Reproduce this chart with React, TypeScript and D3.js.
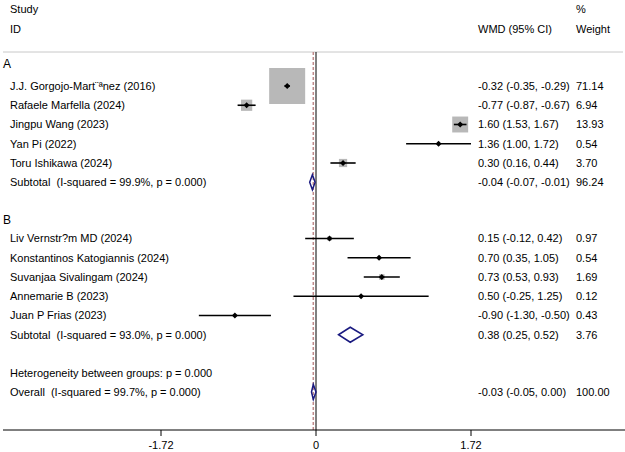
import React from "react";
import * as d3 from "d3";

const groupNames = ["A", "B"];
const studyLabels = [
  ["J.J. Gorgojo-Mart¨ªnez (2016)", "Rafaele Marfella (2024)", "Jingpu Wang (2023)", "Yan Pi (2022)", "Toru Ishikawa (2024)"],
  ["Liv Vernstr?m MD (2024)", "Konstantinos Katogiannis (2024)", "Suvanjaa Sivalingam (2024)", "Annemarie B (2023)", "Juan P Frias (2023)"],
];
const studyEst = [[-0.32, -0.77, 1.6, 1.36, 0.3], [0.15, 0.7, 0.73, 0.5, -0.9]];
const studyLo = [[-0.35, -0.87, 1.53, 1.0, 0.16], [-0.12, 0.35, 0.53, -0.25, -1.3]];
const studyHi = [[-0.29, -0.67, 1.67, 1.72, 0.44], [0.42, 1.05, 0.93, 1.25, -0.5]];
const studyWeight = [[71.14, 6.94, 13.93, 0.54, 3.7], [0.97, 0.54, 1.69, 0.12, 0.43]];
const subtotalLabels = ["Subtotal  (I-squared = 99.9%, p = 0.000)", "Subtotal  (I-squared = 93.0%, p = 0.000)"];
const subtotalEst = [-0.04, 0.38];
const subtotalLo = [-0.07, 0.25];
const subtotalHi = [-0.01, 0.52];
const subtotalWeight = [96.24, 3.76];
const overallLabel = "Overall  (I-squared = 99.7%, p = 0.000)";
const overallEst = -0.03;
const overallLo = -0.05;
const overallHi = 0.0;
const overallWeight = 100.0;
const heterogeneityLabel = "Heterogeneity between groups: p = 0.000";
const tickValues = [-1.72, 0, 1.72];

const fmt = (v: number) => v.toFixed(2);
const ciText = (e: number, l: number, h: number) => `${fmt(e)} (${fmt(l)}, ${fmt(h)})`;

export default function App() {
  const W = 625, H = 452;
  const x = d3.scaleLinear().domain([-1.72, 1.72]).range([161, 471]);
  const rowH = 19.25;
  const groupY = [63.3, 220];
  const firstY = [86, 238.5];
  const font = "Arial, 'Liberation Sans', sans-serif";
  const fs = 11;
  const textX = 10, ciX = 478, wX = 576;
  const axisY = 430, topY = 52;
  const maxSide = 36;
  const maxW = d3.max(studyWeight.flat()) as number;
  const pre = { whiteSpace: "pre" as const };

  const els: React.ReactNode[] = [];
  groupNames.forEach((g, gi) => {
    els.push(<text key={`g${gi}`} x={3} y={groupY[gi]} dy="0.35em" fontSize={fs + 1}>{g}</text>);
    let y = firstY[gi];
    studyLabels[gi].forEach((lab, i) => {
      const e = studyEst[gi][i], lo = studyLo[gi][i], hi = studyHi[gi][i], w = studyWeight[gi][i];
      const side = maxSide * Math.sqrt(w / maxW);
      els.push(
        <g key={`s${gi}-${i}`}>
          <text x={textX} y={y} dy="0.35em" fontSize={fs} style={pre}>{lab}</text>
          <rect x={x(e) - side / 2} y={y - side / 2} width={side} height={side} fill="#b8b8b8" />
          <line x1={x(lo)} x2={x(hi)} y1={y} y2={y} stroke="#000" strokeWidth={1.6} />
          <path d={`M${x(e) - 3},${y} L${x(e)},${y - 3} L${x(e) + 3},${y} L${x(e)},${y + 3} Z`} fill="#000" />
          <text x={ciX} y={y} dy="0.35em" fontSize={fs}>{ciText(e, lo, hi)}</text>
          <text x={wX} y={y} dy="0.35em" fontSize={fs}>{fmt(w)}</text>
        </g>
      );
      y += rowH;
    });
    const se = subtotalEst[gi], sl = subtotalLo[gi], sh = subtotalHi[gi];
    els.push(
      <g key={`t${gi}`}>
        <text x={textX} y={y} dy="0.35em" fontSize={fs} style={pre}>{subtotalLabels[gi]}</text>
        <path d={`M${x(sl)},${y} L${x(se)},${y - 7.5} L${x(sh)},${y} L${x(se)},${y + 7.5} Z`} fill="none" stroke="#1a1a80" strokeWidth={1.5} />
        <text x={ciX} y={y} dy="0.35em" fontSize={fs}>{ciText(se, sl, sh)}</text>
        <text x={wX} y={y} dy="0.35em" fontSize={fs}>{fmt(subtotalWeight[gi])}</text>
      </g>
    );
  });
  let y = 372.7;
  els.push(<text key="het" x={textX} y={y} dy="0.35em" fontSize={fs}>{heterogeneityLabel}</text>);
  y += rowH;
  els.push(
    <g key="ov">
      <text x={textX} y={y} dy="0.35em" fontSize={fs} style={pre}>{overallLabel}</text>
      <path d={`M${x(overallLo)},${y} L${x(overallEst)},${y - 7.5} L${x(overallHi)},${y} L${x(overallEst)},${y + 7.5} Z`} fill="none" stroke="#1a1a80" strokeWidth={1.5} />
      <text x={ciX} y={y} dy="0.35em" fontSize={fs}>{ciText(overallEst, overallLo, overallHi)}</text>
      <text x={wX} y={y} dy="0.35em" fontSize={fs}>{fmt(overallWeight)}</text>
    </g>
  );

  return (
    <svg width={W} height={H} style={{ position: "absolute", left: 0, top: 0, background: "#fff" }} fontFamily={font}>
      <rect width={W} height={H} fill="#fff" />
      <text x={textX} y={9} dy="0.35em" fontSize={fs}>Study</text>
      <text x={textX} y={29} dy="0.35em" fontSize={fs}>ID</text>
      <text x={wX} y={9} dy="0.35em" fontSize={fs}>%</text>
      <text x={ciX} y={29} dy="0.35em" fontSize={fs}>WMD (95% CI)</text>
      <text x={wX} y={29} dy="0.35em" fontSize={fs}>Weight</text>
      <line x1={3} x2={623} y1={topY} y2={topY} stroke="#c8c8c8" strokeWidth={1} />
      <line x1={x(0)} x2={x(0)} y1={topY} y2={axisY} stroke="#000" strokeWidth={1} />
      <line x1={x(overallEst)} x2={x(overallEst)} y1={topY} y2={axisY} stroke="#c08a8a" strokeWidth={1.5} strokeDasharray="3,2" />
      {els}
      <line x1={3} x2={625} y1={axisY} y2={axisY} stroke="#000" strokeWidth={1} />
      {tickValues.map((t) => (
        <g key={t}>
          <line x1={x(t)} x2={x(t)} y1={axisY} y2={axisY + 6} stroke="#000" />
          <text x={x(t)} y={445} dy="0.35em" fontSize={fs} textAnchor="middle">{t === 0 ? "0" : fmt(t)}</text>
        </g>
      ))}
    </svg>
  );
}
